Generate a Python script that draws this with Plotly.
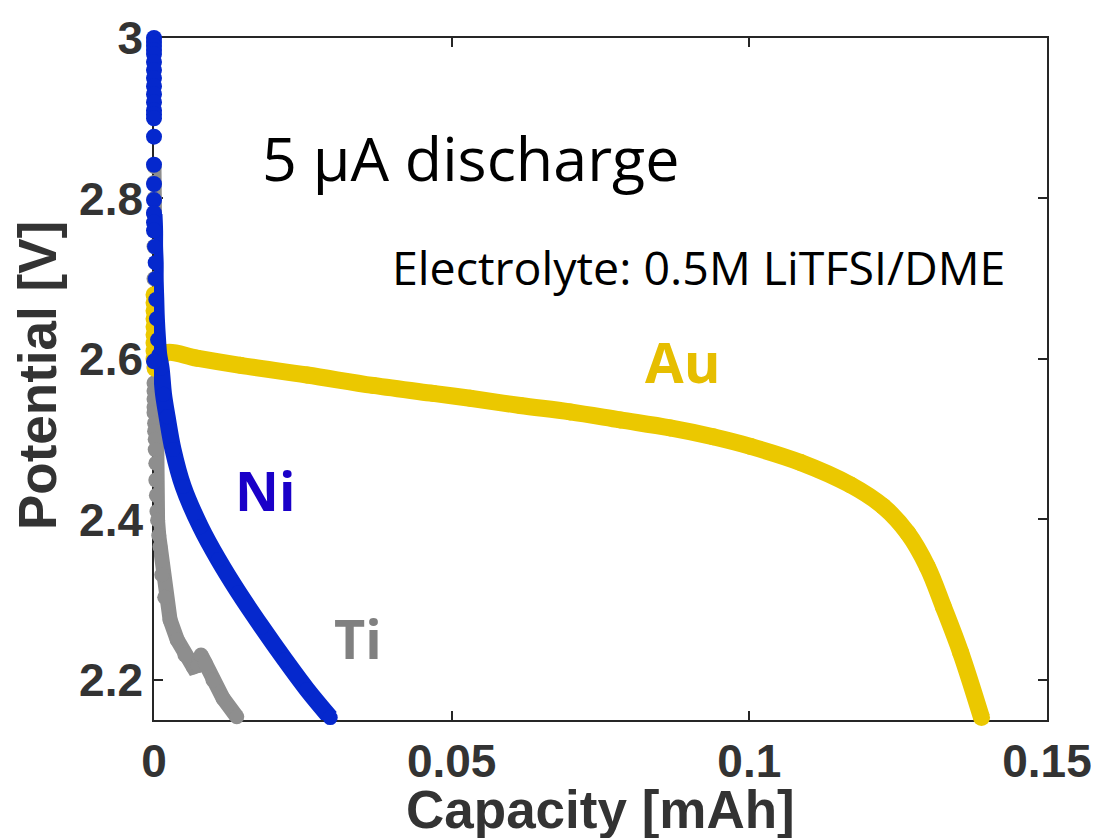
import plotly.graph_objects as go

# ---- data ----
au_x = [0, 0, 0, 0, 0, 0, 0, 0, 0, 0.0002, 0.0010, 0.0022, 0.0072, 0.0145, 0.0257,
        0.0368, 0.0469, 0.0531, 0.0615, 0.0699, 0.0783, 0.0867, 0.0939, 0.1002, 0.1086,
        0.1170, 0.1225, 0.1266, 0.1299, 0.1326, 0.1355, 0.1390]
au_y = [2.68, 2.67, 2.66, 2.65, 2.64, 2.63, 2.62, 2.61, 2.60, 2.588, 2.600, 2.608,
        2.601, 2.592, 2.580, 2.567, 2.557, 2.551, 2.542, 2.534, 2.524, 2.514, 2.503,
        2.491, 2.471, 2.443, 2.416, 2.383, 2.341, 2.291, 2.234, 2.153]

ni_dot_x = [0, 0, 0, 0, 0, 0, 0, 0, 0, 0, 0, 0, 0, 0, 0, 0, 0, 0, 0, 0, 0, 0]
ni_dot_y = [3.0, 2.995, 2.99, 2.985, 2.98, 2.97, 2.96, 2.95, 2.94, 2.93, 2.92,
            2.91, 2.905, 2.90, 2.877, 2.842, 2.818, 2.798, 2.782, 2.77, 2.76, 2.597]

ni_x = [0, 0.0001, 0.0001, 0.0002, 0.0002, 0.0003, 0.0004, 0.0006, 0.0008, 0.0012,
        0.0016, 0.0022, 0.0032, 0.0049, 0.0078, 0.0108, 0.0142, 0.0181, 0.0220,
        0.0257, 0.0296]
ni_y = [2.78, 2.76, 2.74, 2.72, 2.70, 2.674, 2.65, 2.624, 2.605, 2.588, 2.556,
        2.528, 2.487, 2.441, 2.391, 2.350, 2.309, 2.266, 2.225, 2.188, 2.153]

ti_x = [0, 0, 0, 0, 0, 0, 0, 0, 0, 0, 0, 0, 0, 0, 0.0001, 0.0001, 0.0002, 0.0002,
        0.0003, 0.0003, 0.0004, 0.0005, 0.0006, 0.0008, 0.0010, 0.0013, 0.0018, 0.0027,
        0.0039, 0.0052, 0.0066, 0.0074, 0.0079, 0.0086, 0.0099, 0.0116, 0.0139]
ti_y = [2.84, 2.82, 2.80, 2.78, 2.74, 2.70, 2.66, 2.62, 2.59, 2.57, 2.56, 2.55, 2.54,
        2.533, 2.52, 2.51, 2.50, 2.487, 2.47, 2.449, 2.43, 2.41, 2.399, 2.38, 2.366,
        2.331, 2.303, 2.275, 2.250, 2.231, 2.216, 2.218, 2.231, 2.221, 2.200, 2.177, 2.154]

x_ticks = [0, 0.05, 0.1, 0.15]
x_ticktext = ["0", "0.05", "0.1", "0.15"]
y_ticks = [2.2, 2.4, 2.6, 2.8, 3.0]
y_ticktext = ["2.2", "2.4", "2.6", "2.8", "3"]

AU_C = "#EBC800"
NI_C = "#0528CD"
TI_C = "#8E8E8E"
W = 17

fig = go.Figure()
fig.add_trace(go.Scatter(x=ti_x, y=ti_y, mode="lines+markers",
                         line=dict(color=TI_C, width=W - 2),
                         marker=dict(color=TI_C, size=W - 2), cliponaxis=False, showlegend=False))
fig.add_trace(go.Scatter(x=au_x, y=au_y, mode="lines+markers",
                         line=dict(color=AU_C, width=W, shape="spline", smoothing=1.0),
                         marker=dict(color=AU_C, size=W), cliponaxis=False, showlegend=False))
fig.add_trace(go.Scatter(x=ni_x, y=ni_y, mode="lines+markers",
                         line=dict(color=NI_C, width=W, shape="spline", smoothing=1.0),
                         marker=dict(color=NI_C, size=W - 2), cliponaxis=False, showlegend=False))
fig.add_trace(go.Scatter(x=ni_dot_x, y=ni_dot_y, mode="markers",
                         marker=dict(color=NI_C, size=W - 1), cliponaxis=False, showlegend=False))

axis_common = dict(showline=True, linecolor="#262626", linewidth=1.5, mirror="ticks",
                   ticks="inside", ticklen=9, tickwidth=1.5, tickcolor="#262626",
                   showgrid=False, zeroline=False, automargin=False, layer="below traces",
                   tickfont=dict(family="Liberation Sans", size=46, color="#333333", weight="bold"))

fig.update_xaxes(range=[0, 0.15], tickvals=x_ticks, ticktext=x_ticktext, **axis_common)
fig.update_yaxes(range=[2.15, 3.0], tickvals=y_ticks, ticktext=y_ticktext, **axis_common)

title_font = dict(family="Liberation Sans", size=53, color="#333333", weight="bold")
# axis titles placed next to the tick labels
fig.add_annotation(x=0.5, y=0, xref="paper", yref="paper", yanchor="middle", yshift=-89,
                   text="Capacity [mAh]", showarrow=False, font=title_font)
fig.add_annotation(x=0, y=0.5, xref="paper", yref="paper", xanchor="center", yanchor="middle",
                   xshift=-117, yshift=3, textangle=-90,
                   text="Potential [V]", showarrow=False, font=title_font)

fig.add_annotation(x=0.0531, y=2.851, xref="x", yref="y", text="5 µA discharge", showarrow=False,
                   font=dict(family="Open Sans", size=61, color="#000000"))
fig.add_annotation(x=0.0914, y=2.715, xref="x", yref="y", text="Electrolyte: 0.5M LiTFSI/DME",
                   showarrow=False, font=dict(family="Open Sans", size=46.5, color="#000000"))
fig.add_annotation(x=0.0887, y=2.597, xref="x", yref="y", text="<b>Au</b>", showarrow=False,
                   font=dict(family="Open Sans", size=56, color="#E6BE00"))
fig.add_annotation(x=0.01865, y=2.437, xref="x", yref="y", text="<b>Ni</b>", showarrow=False,
                   font=dict(family="Open Sans", size=54, color="#1A00C8"))
fig.add_annotation(x=0.0343, y=2.2526, xref="x", yref="y", text="<b>Ti</b>", showarrow=False,
                   font=dict(family="Open Sans", size=54, color="#808080"))

# page body has an 8px default margin, so the figure is sized to end at the window edge
fig.update_layout(width=1091, height=830, margin=dict(l=146, r=52, t=30, b=118, autoexpand=False),
                  paper_bgcolor="white", plot_bgcolor="white")

fig.write_html("out.html")
